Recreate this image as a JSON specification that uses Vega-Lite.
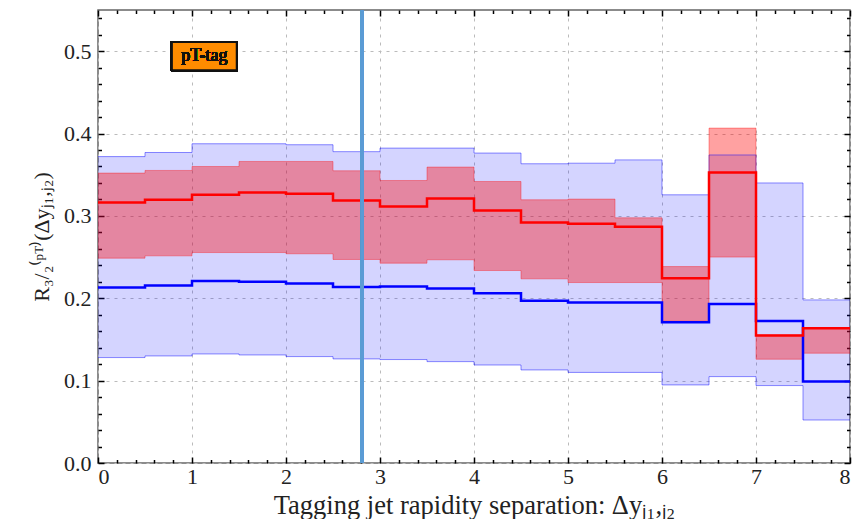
{
  "$schema": "https://vega.github.io/schema/vega-lite/v6.json",
  "width": 752,
  "height": 453,
  "autosize": {"type": "none"},
  "padding": {"left": 98, "top": 10, "right": 4, "bottom": 56},
  "background": "white",
  "config": {
    "view": {"stroke": "#666", "strokeWidth": 1.5},
    "font": "Liberation Serif",
    "axis": {"domain": false, "grid": false, "labels": false, "ticks": true, "tickColor": "#000", "tickWidth": 1.5, "zindex": 1, "labelFont": "Liberation Serif", "titleFont": "Liberation Serif"}
  },
  "data": {"values": [
    {"x": 0, "s": "b", "c": 0.213, "lo": 0.128, "hi": 0.372},
    {"x": 0.5, "s": "b", "c": 0.2155, "lo": 0.130, "hi": 0.377},
    {"x": 1, "s": "b", "c": 0.221, "lo": 0.1324, "hi": 0.3876},
    {"x": 1.5, "s": "b", "c": 0.220, "lo": 0.1312, "hi": 0.3876},
    {"x": 2, "s": "b", "c": 0.218, "lo": 0.1292, "hi": 0.3864},
    {"x": 2.5, "s": "b", "c": 0.2138, "lo": 0.1264, "hi": 0.378},
    {"x": 3, "s": "b", "c": 0.2143, "lo": 0.1256, "hi": 0.3823},
    {"x": 3.5, "s": "b", "c": 0.212, "lo": 0.1231, "hi": 0.3823},
    {"x": 4, "s": "b", "c": 0.206, "lo": 0.119, "hi": 0.3763},
    {"x": 4.5, "s": "b", "c": 0.197, "lo": 0.113, "hi": 0.3633},
    {"x": 5, "s": "b", "c": 0.195, "lo": 0.110, "hi": 0.364},
    {"x": 5.5, "s": "b", "c": 0.195, "lo": 0.110, "hi": 0.368},
    {"x": 6, "s": "b", "c": 0.171, "lo": 0.0948, "hi": 0.3256},
    {"x": 6.5, "s": "b", "c": 0.193, "lo": 0.1049, "hi": 0.374},
    {"x": 7, "s": "b", "c": 0.1725, "lo": 0.094, "hi": 0.340},
    {"x": 7.5, "s": "b", "c": 0.099, "lo": 0.0522, "hi": 0.198},
    {"x": 8, "s": "b", "c": 0.099, "lo": 0.0522, "hi": 0.198},
    {"x": 0, "s": "r", "c": 0.3163, "lo": 0.2487, "hi": 0.352},
    {"x": 0.5, "s": "r", "c": 0.3196, "lo": 0.2515, "hi": 0.3552},
    {"x": 1, "s": "r", "c": 0.3256, "lo": 0.2555, "hi": 0.360},
    {"x": 1.5, "s": "r", "c": 0.3285, "lo": 0.2555, "hi": 0.3661},
    {"x": 2, "s": "r", "c": 0.3268, "lo": 0.254, "hi": 0.3661},
    {"x": 2.5, "s": "r", "c": 0.3187, "lo": 0.2471, "hi": 0.3548},
    {"x": 3, "s": "r", "c": 0.3115, "lo": 0.2426, "hi": 0.343},
    {"x": 3.5, "s": "r", "c": 0.3212, "lo": 0.2467, "hi": 0.3593},
    {"x": 4, "s": "r", "c": 0.3066, "lo": 0.2337, "hi": 0.3418},
    {"x": 4.5, "s": "r", "c": 0.292, "lo": 0.2236, "hi": 0.3196},
    {"x": 5, "s": "r", "c": 0.2904, "lo": 0.2191, "hi": 0.3204},
    {"x": 5.5, "s": "r", "c": 0.2868, "lo": 0.2191, "hi": 0.2977},
    {"x": 6, "s": "r", "c": 0.2244, "lo": 0.1729, "hi": 0.2385},
    {"x": 6.5, "s": "r", "c": 0.3528, "lo": 0.25, "hi": 0.4066},
    {"x": 7, "s": "r", "c": 0.1547, "lo": 0.126, "hi": 0.1555},
    {"x": 7.5, "s": "r", "c": 0.1636, "lo": 0.1333, "hi": 0.1636},
    {"x": 8, "s": "r", "c": 0.1636, "lo": 0.1333, "hi": 0.1636}
  ]},
  "resolve": {"axis": {"x": "independent", "y": "independent"}},
  "layer": [
    {
      "transform": [{"filter": "datum.s === 'b'"}],
      "mark": {"type": "area", "interpolate": "step-after", "color": "#0000ff", "fillOpacity": 0.17},
      "encoding": {
        "x": {"field": "x", "type": "quantitative", "scale": {"domain": [0, 8], "nice": false, "zero": false},
          "axis": {"orient": "bottom", "values": [0, 1, 2, 3, 4, 5, 6, 7, 8], "format": "d", "tickSize": 0, "labels": true, "labelFont": "Liberation Serif", "labelFontSize": 22, "labelColor": "#222", "labelPadding": 3, "grid": true, "gridColor": "#bbb", "gridDash": [3, 5], "title": "Tagging jet rapidity separation:  Δyⱼ₁,ⱼ₂", "titleFont": "Liberation Serif", "titleFontSize": 26.5, "titleFontWeight": "normal", "titleColor": "#222", "titleBaseline": "alphabetic", "titleY": 50}},
        "y": {"field": "lo", "type": "quantitative", "scale": {"domain": [0, 0.55], "nice": false, "zero": false},
          "axis": {"orient": "left", "values": [0, 0.1, 0.2, 0.3, 0.4, 0.5], "format": ".1f", "tickSize": 0, "labels": true, "labelFont": "Liberation Serif", "labelFontSize": 22, "labelColor": "#222", "labelPadding": 7, "grid": true, "gridColor": "#bbb", "gridDash": [3, 5], "title": "R₃/₂⁽ᵖᵀ⁾(Δyⱼ₁,ⱼ₂)", "titleFont": "Liberation Serif", "titleFontSize": 22, "titleFontWeight": "normal", "titleColor": "#222", "titlePadding": 10}},
        "y2": {"field": "hi"}
      }
    },
    {
      "transform": [{"filter": "datum.s === 'r'"}],
      "mark": {"type": "area", "interpolate": "step-after", "color": "#ff0000", "fillOpacity": 0.37},
      "encoding": {
        "x": {"field": "x", "type": "quantitative",
          "axis": {"orient": "bottom", "values": [0.2, 0.4, 0.6, 0.8, 1.2, 1.4, 1.6, 1.8, 2.2, 2.4, 2.6, 2.8, 3.2, 3.4, 3.6, 3.8, 4.2, 4.4, 4.6, 4.8, 5.2, 5.4, 5.6, 5.8, 6.2, 6.4, 6.6, 6.8, 7.2, 7.4, 7.6, 7.8], "offset": -3.5, "tickSize": 3.5, "title": null}},
        "y": {"field": "lo", "type": "quantitative",
          "axis": {"orient": "left", "values": [0.02, 0.04, 0.06, 0.08, 0.12, 0.14, 0.16, 0.18, 0.22, 0.24, 0.26, 0.28, 0.32, 0.34, 0.36, 0.38, 0.42, 0.44, 0.46, 0.48, 0.52, 0.54], "offset": -3.5, "tickSize": 3.5, "title": null}},
        "y2": {"field": "hi"}
      }
    },
    {
      "transform": [{"filter": "datum.s === 'b'"}],
      "mark": {"type": "line", "interpolate": "step-after", "color": "#0000ff", "strokeOpacity": 0.45, "strokeWidth": 1},
      "encoding": {
        "x": {"field": "x", "type": "quantitative",
          "axis": {"orient": "top", "values": [0, 1, 2, 3, 4, 5, 6, 7, 8], "offset": -6, "tickSize": 6, "title": null}},
        "y": {"field": "hi", "type": "quantitative",
          "axis": {"orient": "right", "values": [0, 0.1, 0.2, 0.3, 0.4, 0.5], "offset": -6, "tickSize": 6, "title": null}}
      }
    },
    {
      "transform": [{"filter": "datum.s === 'b'"}],
      "mark": {"type": "line", "interpolate": "step-after", "color": "#0000ff", "strokeOpacity": 0.45, "strokeWidth": 1},
      "encoding": {
        "x": {"field": "x", "type": "quantitative",
          "axis": {"orient": "top", "values": [0.2, 0.4, 0.6, 0.8, 1.2, 1.4, 1.6, 1.8, 2.2, 2.4, 2.6, 2.8, 3.2, 3.4, 3.6, 3.8, 4.2, 4.4, 4.6, 4.8, 5.2, 5.4, 5.6, 5.8, 6.2, 6.4, 6.6, 6.8, 7.2, 7.4, 7.6, 7.8], "offset": -3.5, "tickSize": 3.5, "title": null}},
        "y": {"field": "lo", "type": "quantitative",
          "axis": {"orient": "right", "values": [0.02, 0.04, 0.06, 0.08, 0.12, 0.14, 0.16, 0.18, 0.22, 0.24, 0.26, 0.28, 0.32, 0.34, 0.36, 0.38, 0.42, 0.44, 0.46, 0.48, 0.52, 0.54], "offset": -3.5, "tickSize": 3.5, "title": null}}
      }
    },
    {
      "transform": [{"filter": "datum.s === 'r'"}],
      "mark": {"type": "line", "interpolate": "step-after", "color": "#ff0000", "strokeOpacity": 0.35, "strokeWidth": 1},
      "encoding": {
        "x": {"field": "x", "type": "quantitative",
          "axis": {"orient": "bottom", "values": [0, 1, 2, 3, 4, 5, 6, 7, 8], "offset": -6, "tickSize": 6, "title": null}},
        "y": {"field": "hi", "type": "quantitative",
          "axis": {"orient": "left", "values": [0, 0.1, 0.2, 0.3, 0.4, 0.5], "offset": -6, "tickSize": 6, "title": null}}
      }
    },
    {
      "transform": [{"filter": "datum.s === 'r'"}],
      "mark": {"type": "line", "interpolate": "step-after", "color": "#ff0000", "strokeOpacity": 0.35, "strokeWidth": 1},
      "encoding": {
        "x": {"field": "x", "type": "quantitative", "axis": null},
        "y": {"field": "lo", "type": "quantitative", "axis": null}
      }
    },
    {
      "transform": [{"filter": "datum.s === 'b'"}],
      "mark": {"type": "line", "interpolate": "step-after", "color": "#0000ff", "strokeWidth": 2.5},
      "encoding": {
        "x": {"field": "x", "type": "quantitative", "axis": null},
        "y": {"field": "c", "type": "quantitative", "axis": null}
      }
    },
    {
      "transform": [{"filter": "datum.s === 'r'"}],
      "mark": {"type": "line", "interpolate": "step-after", "color": "#ff0000", "strokeWidth": 2.5},
      "encoding": {
        "x": {"field": "x", "type": "quantitative", "axis": null},
        "y": {"field": "c", "type": "quantitative", "axis": null}
      }
    },
    {
      "mark": {"type": "rule", "color": "#5b9bd5", "strokeWidth": 2.5},
      "encoding": {
        "x": {"datum": 2.81, "type": "quantitative", "axis": null}
      }
    },
    {
      "mark": {"type": "rect", "fill": "#ff8c00", "stroke": "#111", "strokeWidth": 2},
      "encoding": {
        "x": {"datum": 0.786, "type": "quantitative", "axis": null},
        "x2": {"datum": 1.476},
        "y": {"datum": 0.4767, "type": "quantitative", "axis": null},
        "y2": {"datum": 0.511}
      }
    },
    {
      "mark": {"type": "text", "text": "pT-tag", "font": "Liberation Serif", "fontSize": 18, "fontWeight": "normal", "color": "#111", "align": "center", "baseline": "middle"},
      "encoding": {
        "x": {"datum": 1.131, "type": "quantitative", "axis": null},
        "y": {"datum": 0.494, "type": "quantitative", "axis": null}
      }
    }
  ]
}
